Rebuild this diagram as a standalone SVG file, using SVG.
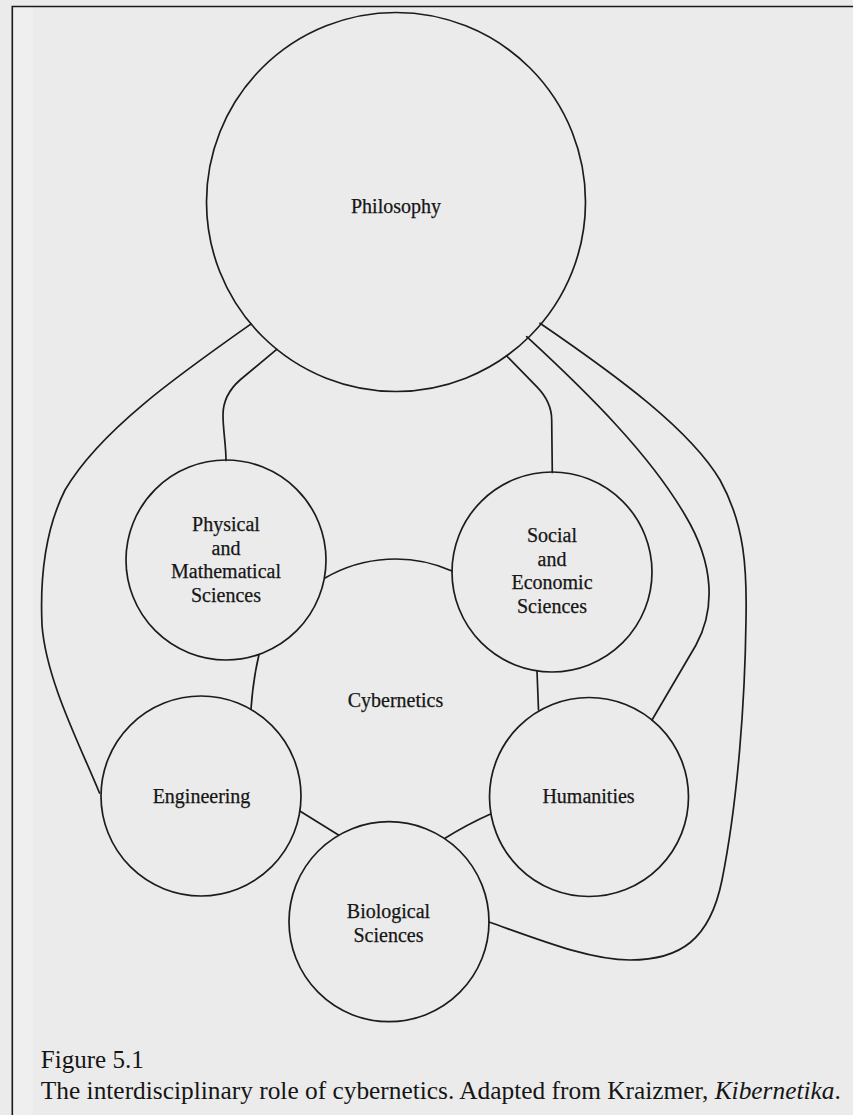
<svg xmlns="http://www.w3.org/2000/svg" width="853" height="1115" viewBox="0 0 853 1115">
  <style>
    .node { fill: none; stroke: #1c1c1c; stroke-width: 1.7; }
    .conn path { fill: none; stroke: #1c1c1c; stroke-width: 1.7; stroke-linecap: round; }
    .lbl { font-family: "Liberation Serif", "Times New Roman", serif; font-size: 20px; fill: #161616; stroke: #161616; stroke-width: 0.25; text-anchor: middle; }
    .cap { font-family: "Liberation Serif", "Times New Roman", serif; font-size: 25.3px; fill: #151515; }
  </style>
  <rect x="0" y="0" width="853" height="1115" fill="#ebebeb"/>
  <rect x="13" y="7" width="20" height="1108" fill="#efefef"/>
  <path d="M12.3 1115 L12.3 6.5 L853 6.5" fill="none" stroke="#1a1a1a" stroke-width="1.6"/>

  <g id="connectors" class="conn">
    <path d="M251 324 C180 374 100 430 65 490 C45 530 40 580 42 625 C46 680 80 745 99.5 793"/>
    <path d="M276.7 349.3 L240 380 Q223 395 223 415 C223 430 226 445 226 460.5"/>
    <path d="M506.7 356 L536.7 386.7 Q551.7 402 551.7 420 L552.3 472.5"/>
    <path d="M526.7 336.7 C590 395 650 455 685 515 C715 565 715 610 696 645 L652 720"/>
    <path d="M540 323.3 C620 378 690 430 720 480 C745 525 747 570 746 620 C745 700 738 800 722 880 C710 940 680 960 630 960 C590 960 540 940 489 922"/>
    <path d="M325 578 A140 140 0 0 1 452 571"/>
    <path d="M259 654.5 Q253 680 251 709"/>
    <path d="M537 671 L538.5 710"/>
    <path d="M299.8 811 L338.5 835"/>
    <path d="M490.5 814 Q466 825 445 838.3"/>
  </g>

  <g id="philosophy">
    <circle class="node" cx="396" cy="202" r="189.5"/>
    <text class="lbl" x="396" y="213">Philosophy</text>
  </g>
  <g id="physical">
    <circle class="node" cx="226" cy="560" r="100"/>
    <text class="lbl" x="226" y="531">Physical</text>
    <text class="lbl" x="226" y="554.5">and</text>
    <text class="lbl" x="226" y="578">Mathematical</text>
    <text class="lbl" x="226" y="602">Sciences</text>
  </g>
  <g id="social">
    <circle class="node" cx="552" cy="572" r="100"/>
    <text class="lbl" x="552" y="542">Social</text>
    <text class="lbl" x="552" y="565.5">and</text>
    <text class="lbl" x="552" y="589">Economic</text>
    <text class="lbl" x="552" y="613">Sciences</text>
  </g>
  <g id="cybernetics">
    <text class="lbl" x="395.5" y="706.5">Cybernetics</text>
  </g>
  <g id="engineering">
    <circle class="node" cx="201" cy="796" r="100"/>
    <text class="lbl" x="201.5" y="803.3">Engineering</text>
  </g>
  <g id="humanities">
    <circle class="node" cx="589" cy="797" r="99.5"/>
    <text class="lbl" x="588.5" y="803.3">Humanities</text>
  </g>
  <g id="biological">
    <circle class="node" cx="389" cy="921.7" r="100"/>
    <text class="lbl" x="388.5" y="918.3">Biological</text>
    <text class="lbl" x="388.5" y="941.7">Sciences</text>
  </g>

  <g id="caption">
    <text class="cap" x="40.8" y="1068" textLength="103" lengthAdjust="spacingAndGlyphs">Figure 5.1</text>
    <text class="cap" x="40.8" y="1099" textLength="800" lengthAdjust="spacingAndGlyphs">The interdisciplinary role of cybernetics. Adapted from Kraizmer, <tspan font-style="italic">Kibernetika</tspan>.</text>
  </g>
</svg>
